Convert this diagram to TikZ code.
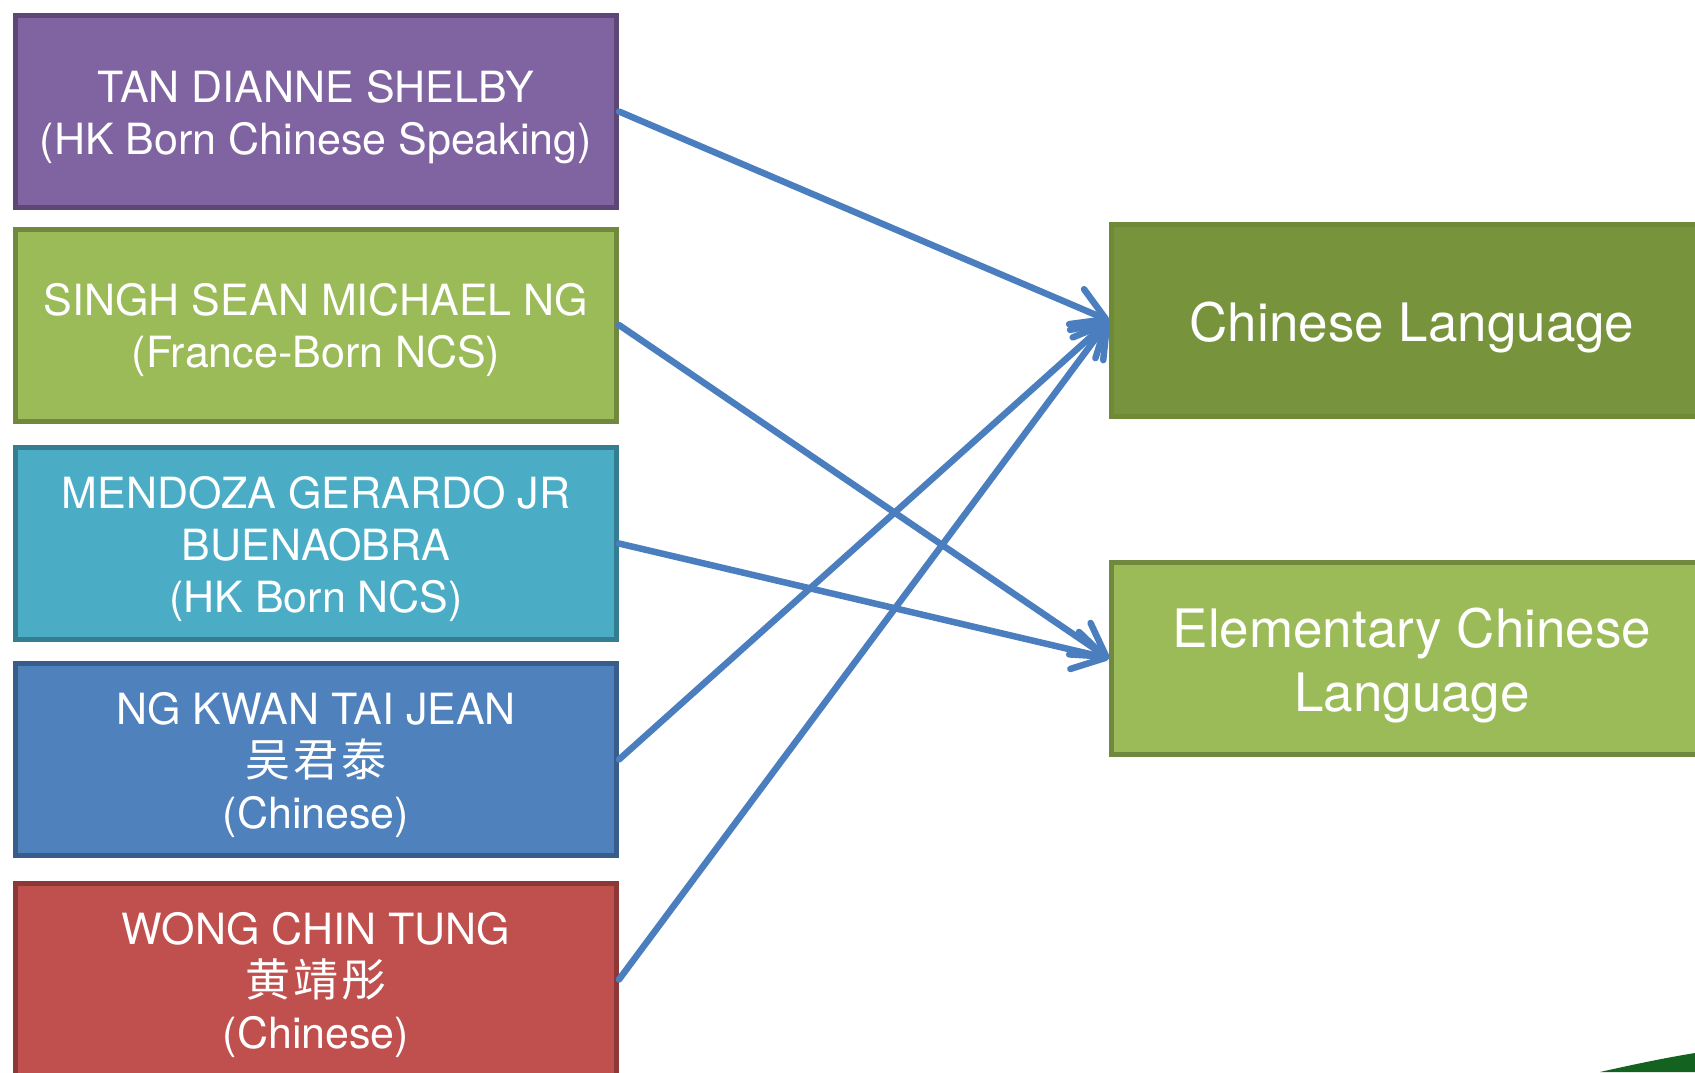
\documentclass[tikz,border=0pt]{standalone}
\usepackage{fontspec}
\setmainfont{TeX Gyre Heros}
\newfontfamily\cjk{Noto Sans CJK SC}
\usetikzlibrary{arrows.meta}
\definecolor{purpleF}{HTML}{8064A2}
\definecolor{purpleD}{HTML}{5C4776}
\definecolor{greenF}{HTML}{9BBB59}
\definecolor{greenD}{HTML}{71893F}
\definecolor{tealF}{HTML}{4BACC6}
\definecolor{tealD}{HTML}{357D91}
\definecolor{blueF}{HTML}{4F81BD}
\definecolor{blueD}{HTML}{385D8A}
\definecolor{redF}{HTML}{C0504D}
\definecolor{redD}{HTML}{8C3836}
\definecolor{oliveF}{HTML}{77933C}
\definecolor{oliveD}{HTML}{6E8A37}
\definecolor{arrowC}{HTML}{4A7EBF}
\definecolor{darkG}{HTML}{14621F}
\newcommand{\topstrut}{\rule{0pt}{1em}}
\newcommand{\hanzi}[1]{{\cjk\fontsize{45}{52}\selectfont\addfontfeatures{LetterSpace=6}#1}}
\begin{document}
\begin{tikzpicture}[x=1pt,y=-1pt,
  box/.style={draw, line width=5pt, minimum width=601pt, minimum height=192pt,
    inner sep=0pt, align=center, text=white, font=\fontsize{43}{52}\selectfont},
  bigbox/.style={box, font=\fontsize{53}{64}\selectfont},
  arr/.style={draw=arrowC, line width=6.5pt, line cap=round,
    -{Straight Barb[length=32pt,width=38pt,line cap=round,line join=round]}}]
\clip (0,0) rectangle (1695,1072);
\fill[white] (0,0) rectangle (1695,1072);

\node[box, fill=purpleF, draw=purpleD] (tan) at (316,111.5)
  {\topstrut TAN DIANNE SHELBY\\(HK Born Chinese Speaking)};
\node[box, fill=greenF, draw=greenD] (singh) at (316,325)
  {\topstrut SINGH SEAN MICHAEL NG\\(France-Born NCS)};
\node[box, fill=tealF, draw=tealD] (mendoza) at (316,543.5)
  {\topstrut MENDOZA GERARDO JR\\BUENAOBRA\\(HK Born NCS)};
\node[box, fill=blueF, draw=blueD] (ng) at (316,759.5)
  {\topstrut NG KWAN TAI JEAN\\\hanzi{吴君泰}\\(Chinese)};
\node[box, fill=redF, draw=redD] (wong) at (316,979.5)
  {\topstrut WONG CHIN TUNG\\\hanzi{黄靖彤}\\(Chinese)};

\node[bigbox, fill=oliveF, draw=oliveD] (cl) at (1412,320.5) {\topstrut Chinese Language};
\node[bigbox, fill=greenF, draw=greenD] (ecl) at (1412,658.5) {\topstrut Elementary Chinese\\Language};

\draw[arr] (tan.east) -- (cl.west);
\draw[arr] (singh.east) -- (ecl.west);
\draw[arr] (mendoza.east) -- (ecl.west);
\draw[arr] (ng.east) -- (cl.west);
\draw[arr] (wong.east) -- (cl.west);

\fill[darkG] (1600,1072) .. controls (1640,1063) and (1670,1057) .. (1695,1053) -- (1695,1072) -- cycle;
\end{tikzpicture}
\end{document}
